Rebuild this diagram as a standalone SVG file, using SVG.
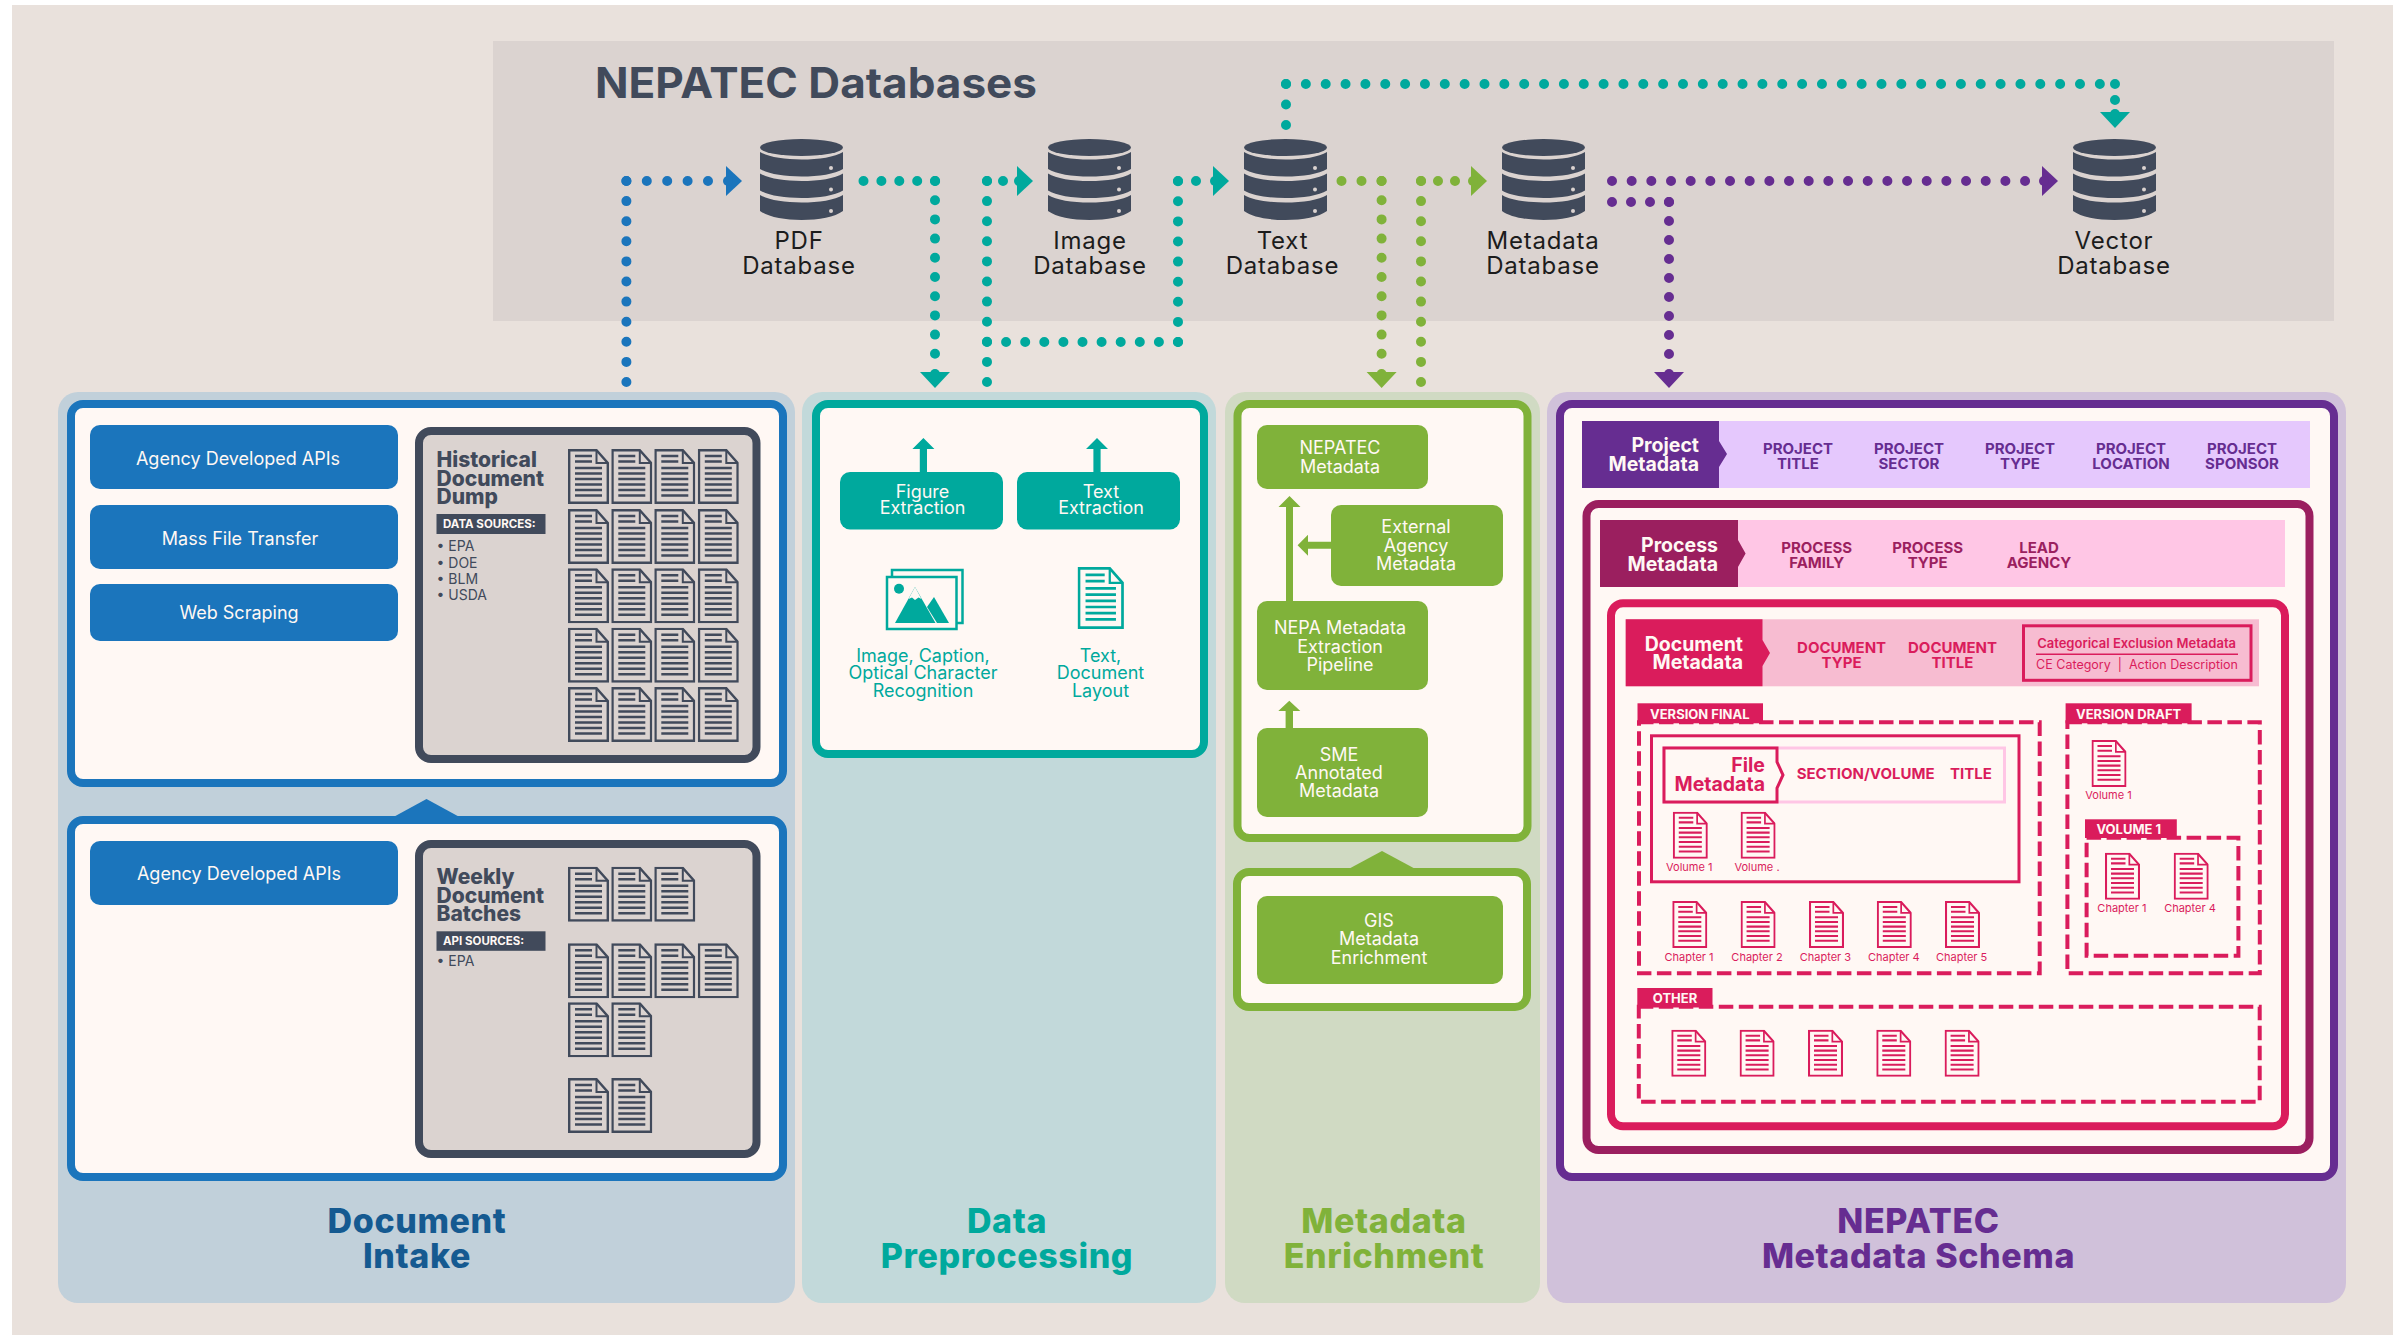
<svg xmlns="http://www.w3.org/2000/svg" width="2400" height="1335" viewBox="0 0 2400 1335">
<style>
text{font-family:Inter,"Liberation Sans",sans-serif}
.m{text-anchor:middle}.e{text-anchor:end}
.b{font-weight:700}.s{font-weight:600}
.btn{font-size:18px;fill:#fff8f4;text-anchor:middle}
.dbl{font-size:24px;letter-spacing:.8px;fill:#1c1c1c;text-anchor:middle}
.h2{font-size:34px;font-weight:800;letter-spacing:.6px;text-anchor:middle}
.frame{fill:#fff8f4;stroke-width:8}
.dots{fill:none;stroke-width:10;stroke-linecap:round}
.dk{color:#414a5b;fill:#dbd3d0}.pk{color:#da1c5c;fill:#fff8f4}.tl{color:#00a99d;fill:#fff8f4}
.gh{font-size:21px;font-weight:800;fill:#414a5b}
.fh{font-size:19.5px;font-weight:700;fill:#da1c5c;text-anchor:end}
.tag{font-size:11.5px;font-weight:700;fill:#fff8f4}
.bul{font-size:14px;fill:#414a5b}
.ph{font-size:19.5px;font-weight:700;fill:#fff8f4;text-anchor:end}
.it{font-size:15px;font-weight:700;text-anchor:middle}
.tab{font-size:13px;font-weight:700;fill:#fff8f4}
.cap{font-size:11px;fill:#da1c5c;text-anchor:middle}
.dash{fill:none;stroke:#da1c5c;stroke-width:4;stroke-dasharray:14.5 5.5}
</style>
<defs>
<symbol id="doc" viewBox="0 0 41 55">
<path d="M1.2,1.2H28.5L39.8,14V53.8H1.2Z" stroke="currentColor" stroke-width="2.4"/>
<path d="M28.5,1.2V14H39.8" fill="none" stroke="currentColor" stroke-width="2"/>
<path d="M7,7H24M7,12.5H24M7,19H34M7,24.5H34M7,30H34M7,35.5H34M7,41H34M7,46.5H34" fill="none" stroke="currentColor" stroke-width="2.4"/>
</symbol>
<symbol id="db" viewBox="0 0 83 81">
<ellipse cx="41.5" cy="8.5" rx="41.5" ry="8.5" fill="#414a5b"/>
<path d="M0,13C8,18 24,20.5 41.5,20.5S75,18 83,13V30C75,35 59,37.5 41.5,37.5S8,35 0,30Z" fill="#414a5b"/>
<path d="M0,34.5C8,39.5 24,42 41.5,42S75,39.5 83,34.5V51.5C75,56.5 59,59 41.5,59S8,56.5 0,51.5Z" fill="#414a5b"/>
<path d="M0,56C8,61 24,63.5 41.5,63.5S75,61 83,56V72C75,78 59,81 41.5,81S8,78 0,72Z" fill="#414a5b"/>
<circle cx="71" cy="29" r="2" fill="#dbd3d0"/><circle cx="71" cy="50.5" r="2" fill="#dbd3d0"/><circle cx="71" cy="72" r="2" fill="#dbd3d0"/>
</symbol>
<g id="ah"><polygon points="3,-15 19,0 3,15"/><circle cx="5" cy="0" r="5"/></g>
</defs>

<rect x="12" y="5" width="2381" height="1330" fill="#e9e1dc"/>

<g id="databases-panel">
<rect x="493" y="41" width="1841" height="280" fill="#dbd3d0"/>
<text x="595" y="98" font-size="42" class="b" fill="#414a5b" textLength="442" lengthAdjust="spacingAndGlyphs">NEPATEC Databases</text>
</g>

<g id="db-pdf"><use href="#db" x="760" y="139" width="83" height="81"/><text class="dbl" x="799" y="249">PDF</text><text class="dbl" x="799" y="274">Database</text></g>
<g id="db-image"><use href="#db" x="1048" y="139" width="83" height="81"/><text class="dbl" x="1090" y="249">Image</text><text class="dbl" x="1090" y="274">Database</text></g>
<g id="db-text"><use href="#db" x="1244" y="139" width="83" height="81"/><text class="dbl" x="1282.5" y="249">Text</text><text class="dbl" x="1282.5" y="274">Database</text></g>
<g id="db-metadata"><use href="#db" x="1502" y="139" width="83" height="81"/><text class="dbl" x="1543" y="249">Metadata</text><text class="dbl" x="1543" y="274">Database</text></g>
<g id="db-vector"><use href="#db" x="2073" y="139" width="83" height="81"/><text class="dbl" x="2114" y="249">Vector</text><text class="dbl" x="2114" y="274">Database</text></g>

<g id="document-intake">
<rect x="58" y="392" width="737" height="911" rx="20" fill="#c1d0da"/>
<rect class="frame" x="71" y="404" width="712" height="379" rx="12" stroke="#1b75bc"/>
<rect class="frame" x="71" y="820" width="712" height="357" rx="12" stroke="#1b75bc"/>
<polygon points="388,820 426.5,799 465,820" fill="#1b75bc"/>
<g fill="#1b75bc">
<rect x="90" y="425" width="308" height="64" rx="10"/>
<rect x="90" y="505" width="308" height="64" rx="10"/>
<rect x="90" y="584" width="308" height="57" rx="10"/>
<rect x="90" y="841" width="308" height="64" rx="10"/>
</g>
<text class="btn" x="238" y="465">Agency Developed APIs</text>
<text class="btn" x="240" y="545">Mass File Transfer</text>
<text class="btn" x="239" y="619">Web Scraping</text>
<text class="btn" x="239" y="880">Agency Developed APIs</text>
<text class="h2" x="417" y="1233" fill="#155a91">Document</text>
<text class="h2" x="417" y="1268" fill="#155a91">Intake</text>
</g>

<g id="historical-dump">
<rect x="419" y="431" width="337.5" height="328" rx="12" fill="#dbd3d0" stroke="#414a5b" stroke-width="8"/>
<text class="gh" x="436.5" y="467">Historical</text><text class="gh" x="436.5" y="485.7">Document</text><text class="gh" x="436.5" y="504">Dump</text>
<rect x="436.5" y="514" width="109" height="20" fill="#414a5b"/>
<text class="tag" x="443" y="528">DATA SOURCES:</text>
<text class="bul" x="436.5" y="551">• EPA</text><text class="bul" x="436.5" y="567.7">• DOE</text><text class="bul" x="436.5" y="584">• BLM</text><text class="bul" x="436.5" y="600">• USDA</text>
<g class="dk">
<use href="#doc" x="568" y="449" width="41" height="55"/><use href="#doc" x="611.3" y="449" width="41" height="55"/><use href="#doc" x="654.3" y="449" width="41" height="55"/><use href="#doc" x="697.8" y="449" width="41" height="55"/>
<use href="#doc" x="568" y="509" width="41" height="55"/><use href="#doc" x="611.3" y="509" width="41" height="55"/><use href="#doc" x="654.3" y="509" width="41" height="55"/><use href="#doc" x="697.8" y="509" width="41" height="55"/>
<use href="#doc" x="568" y="568.3" width="41" height="55"/><use href="#doc" x="611.3" y="568.3" width="41" height="55"/><use href="#doc" x="654.3" y="568.3" width="41" height="55"/><use href="#doc" x="697.8" y="568.3" width="41" height="55"/>
<use href="#doc" x="568" y="627.7" width="41" height="55"/><use href="#doc" x="611.3" y="627.7" width="41" height="55"/><use href="#doc" x="654.3" y="627.7" width="41" height="55"/><use href="#doc" x="697.8" y="627.7" width="41" height="55"/>
<use href="#doc" x="568" y="687" width="41" height="55"/><use href="#doc" x="611.3" y="687" width="41" height="55"/><use href="#doc" x="654.3" y="687" width="41" height="55"/><use href="#doc" x="697.8" y="687" width="41" height="55"/>
</g>
</g>

<g id="weekly-batches">
<rect x="419" y="844" width="337.5" height="310" rx="12" fill="#dbd3d0" stroke="#414a5b" stroke-width="8"/>
<text class="gh" x="436.5" y="884.3">Weekly</text><text class="gh" x="436.5" y="902.7">Document</text><text class="gh" x="436.5" y="921">Batches</text>
<rect x="436.5" y="931.3" width="109" height="19.5" fill="#414a5b"/>
<text class="tag" x="443" y="944.5">API SOURCES:</text>
<text class="bul" x="436.5" y="966">• EPA</text>
<g class="dk">
<use href="#doc" x="568" y="866.7" width="41" height="55"/><use href="#doc" x="611.3" y="866.7" width="41" height="55"/><use href="#doc" x="654.3" y="866.7" width="41" height="55"/>
<use href="#doc" x="568" y="943.3" width="41" height="55"/><use href="#doc" x="611.3" y="943.3" width="41" height="55"/><use href="#doc" x="654.3" y="943.3" width="41" height="55"/><use href="#doc" x="697.8" y="943.3" width="41" height="55"/>
<use href="#doc" x="568" y="1002.3" width="41" height="55"/><use href="#doc" x="611.3" y="1002.3" width="41" height="55"/>
<use href="#doc" x="568" y="1078" width="41" height="55"/><use href="#doc" x="611.3" y="1078" width="41" height="55"/>
</g>
</g>

<g id="data-preprocessing">
<rect x="802" y="392" width="414" height="911" rx="20" fill="#c2d9da"/>
<rect class="frame" x="816" y="404" width="388" height="350" rx="12" stroke="#00a99d"/>
<rect x="840" y="472" width="163" height="57.5" rx="10" fill="#00a99d"/>
<rect x="1017" y="472" width="163" height="57.5" rx="10" fill="#00a99d"/>
<text class="btn" x="922.5" y="498">Figure</text><text class="btn" x="922.5" y="514">Extraction</text>
<text class="btn" x="1101" y="498">Text</text><text class="btn" x="1101" y="514">Extraction</text>
<g id="image-icon" class="tl">
<rect x="892" y="570" width="70.5" height="53" stroke="#00a99d" stroke-width="2.5"/>
<rect x="887" y="577" width="69.5" height="52" stroke="#00a99d" stroke-width="2.5"/>
<circle cx="899" cy="588.7" r="5" fill="#00a99d"/>
<polygon points="915,587 895,623 935.5,623" fill="#00a99d"/>
<polygon points="915,587 908.5,599 912,597.5 915,600 918.5,597.5 921.5,599" fill="#fff8f4"/>
<polygon points="934,597 927,607 937,623 949,623" fill="#00a99d"/>
</g>
<use href="#doc" class="tl" x="1077.5" y="567" width="46.5" height="62"/>
<g fill="#00a99d" font-size="18" text-anchor="middle">
<text x="923" y="661.7">Image, Caption,</text><text x="923" y="679">Optical Character</text><text x="923" y="696.7">Recognition</text>
<text x="1100.5" y="661.7">Text,</text><text x="1100.5" y="679">Document</text><text x="1100.5" y="696.7">Layout</text>
</g>
<text class="h2" x="1007" y="1233" fill="#00a99d">Data</text>
<text class="h2" x="1007" y="1268" fill="#00a99d">Preprocessing</text>
</g>

<g id="metadata-enrichment">
<rect x="1225" y="392" width="315" height="911" rx="20" fill="#d0dac3"/>
<rect class="frame" x="1237.5" y="404" width="290" height="434" rx="12" stroke="#80b23a"/>
<rect class="frame" x="1237" y="872" width="290" height="135" rx="12" stroke="#80b23a"/>
<polygon points="1343,872 1382,851 1421,872" fill="#80b23a"/>
<g fill="#80b23a">
<rect x="1257" y="425" width="171" height="64" rx="10"/>
<rect x="1331" y="505" width="172" height="81" rx="10"/>
<rect x="1257" y="601" width="171" height="89" rx="10"/>
<rect x="1257" y="728" width="171" height="89" rx="10"/>
<rect x="1257" y="896" width="246" height="88" rx="10"/>
</g>
<text class="btn" x="1340" y="454">NEPATEC</text><text class="btn" x="1340" y="472.7">Metadata</text>
<text class="btn" x="1416" y="532.7">External</text><text class="btn" x="1416" y="551.7">Agency</text><text class="btn" x="1416" y="570">Metadata</text>
<text class="btn" x="1340" y="634.3">NEPA Metadata</text><text class="btn" x="1340" y="652.7">Extraction</text><text class="btn" x="1340" y="671">Pipeline</text>
<text class="btn" x="1339" y="760.7">SME</text><text class="btn" x="1339" y="779">Annotated</text><text class="btn" x="1339" y="797.3">Metadata</text>
<text class="btn" x="1379" y="926.7">GIS</text><text class="btn" x="1379" y="945.3">Metadata</text><text class="btn" x="1379" y="964">Enrichment</text>
<text class="h2" x="1384" y="1233" fill="#80b23a">Metadata</text>
<text class="h2" x="1384" y="1268" fill="#80b23a">Enrichment</text>
</g>

<g id="metadata-schema">
<rect x="1547" y="392" width="799" height="911" rx="20" fill="#d0c1da"/>
<rect class="frame" x="1560" y="404" width="774" height="773" rx="12" stroke="#662d91"/>
<text class="h2" x="1918.5" y="1233" fill="#662d91">NEPATEC</text>
<text class="h2" x="1918.5" y="1268" fill="#662d91">Metadata Schema</text>
</g>

<g id="project-metadata">
<rect x="1582" y="421" width="728" height="67" fill="#e5c8fd"/>
<polygon points="1582,421 1719,421 1719,441 1727,454 1719,467 1719,488 1582,488" fill="#662d91"/>
<text class="ph" x="1699" y="452.3">Project</text><text class="ph" x="1699" y="471">Metadata</text>
<g fill="#662d91">
<text class="it" x="1798" y="454.3">PROJECT</text><text class="it" x="1798" y="469">TITLE</text>
<text class="it" x="1909" y="454.3">PROJECT</text><text class="it" x="1909" y="469">SECTOR</text>
<text class="it" x="2020" y="454.3">PROJECT</text><text class="it" x="2020" y="469">TYPE</text>
<text class="it" x="2131" y="454.3">PROJECT</text><text class="it" x="2131" y="469">LOCATION</text>
<text class="it" x="2242" y="454.3">PROJECT</text><text class="it" x="2242" y="469">SPONSOR</text>
</g>
</g>

<g id="process-metadata">
<rect class="frame" x="1586.5" y="504" width="723" height="646" rx="12" stroke="#9b1f5f"/>
<rect x="1600" y="520" width="685" height="67" fill="#ffc6e5"/>
<polygon points="1600,520 1738,520 1738,540 1745.6,553.5 1738,567 1738,587 1600,587" fill="#9b1f5f"/>
<text class="ph" x="1718" y="552">Process</text><text class="ph" x="1718" y="570.7">Metadata</text>
<g fill="#9b1f5f">
<text class="it" x="1816.7" y="553.3">PROCESS</text><text class="it" x="1816.7" y="568.3">FAMILY</text>
<text class="it" x="1927.7" y="553.3">PROCESS</text><text class="it" x="1927.7" y="568.3">TYPE</text>
<text class="it" x="2039" y="553.3">LEAD</text><text class="it" x="2039" y="568.3">AGENCY</text>
</g>
</g>

<g id="document-metadata">
<rect class="frame" x="1611" y="603.3" width="674" height="523" rx="12" stroke="#da1c5c"/>
<rect x="1625.7" y="619.3" width="633.3" height="67" fill="#f7bcd1"/>
<polygon points="1625.7,619.3 1762.5,619.3 1762.5,640 1770,653 1762.5,666 1762.5,686.3 1625.7,686.3" fill="#da1c5c"/>
<text class="ph" x="1743" y="651">Document</text><text class="ph" x="1743" y="669.3">Metadata</text>
<g fill="#da1c5c">
<text class="it" x="1841.6" y="652.7">DOCUMENT</text><text class="it" x="1841.6" y="667.7">TYPE</text>
<text class="it" x="1952.5" y="652.7">DOCUMENT</text><text class="it" x="1952.5" y="667.7">TITLE</text>
</g>
<rect x="2023.5" y="625.8" width="227.5" height="54.5" fill="none" stroke="#da1c5c" stroke-width="3"/>
<text x="2136.6" y="648" class="m s" font-size="13" fill="#da1c5c">Categorical Exclusion Metadata</text>
<path d="M2036,654.3H2238" stroke="#da1c5c" stroke-width="1.5"/>
<text x="2137" y="669.3" class="m" font-size="12.5" xml:space="preserve" fill="#da1c5c">CE Category  |  Action Description</text>
</g>

<g id="version-final">
<rect class="dash" x="1639" y="722.3" width="400.7" height="251"/>
<rect x="1637.5" y="703.3" width="125.5" height="20" fill="#da1c5c"/>
<text class="tab" x="1650" y="718.7">VERSION FINAL</text>
<rect x="1651.5" y="735.8" width="367.5" height="146" fill="none" stroke="#da1c5c" stroke-width="3"/>
<g id="file-metadata">
<rect x="1664" y="748" width="340.5" height="54" fill="#fff8f4" stroke="#ffc6e5" stroke-width="3"/>
<polygon points="1664,748 1777,748 1777,762 1783,775 1777,788 1777,802 1664,802" fill="#fff8f4" stroke="#da1c5c" stroke-width="3"/>
<text x="1765" y="772.3" class="fh">File</text><text x="1765" y="791" class="fh">Metadata</text>
<text class="it" x="1865.6" y="779.3" fill="#da1c5c">SECTION/VOLUME</text><text class="it" x="1971" y="779.3" fill="#da1c5c">TITLE</text>
</g>
<g class="pk">
<use href="#doc" x="1672.8" y="811.7" width="35" height="47"/><use href="#doc" x="1740.6" y="811.7" width="35" height="47"/>
<use href="#doc" x="1672.3" y="901" width="35" height="47"/><use href="#doc" x="1740.6" y="901" width="35" height="47"/><use href="#doc" x="1809" y="901" width="35" height="47"/><use href="#doc" x="1876.8" y="901" width="35" height="47"/><use href="#doc" x="1945" y="901" width="35" height="47"/>
</g>
<text class="cap" x="1689.3" y="871">Volume 1</text><text class="cap" x="1757" y="871">Volume .</text>
<text class="cap" x="1689" y="960.7">Chapter 1</text><text class="cap" x="1757" y="960.7">Chapter 2</text><text class="cap" x="1825.4" y="960.7">Chapter 3</text><text class="cap" x="1893.8" y="960.7">Chapter 4</text><text class="cap" x="1961.6" y="960.7">Chapter 5</text>
</g>

<g id="version-draft">
<rect class="dash" x="2067.4" y="722.3" width="192.4" height="251"/>
<rect x="2065.6" y="703.3" width="126" height="20" fill="#da1c5c"/>
<text class="tab" x="2076" y="718.7">VERSION DRAFT</text>
<use href="#doc" class="pk" x="2091.5" y="740" width="35" height="47"/>
<text class="cap" x="2108.5" y="799.3">Volume 1</text>
<rect class="dash" x="2086.6" y="837.7" width="151.8" height="118"/>
<rect x="2085" y="819.3" width="91.8" height="18.7" fill="#da1c5c"/>
<text class="tab" x="2096.4" y="834">VOLUME 1</text>
<g class="pk"><use href="#doc" x="2105" y="852.7" width="35" height="47"/><use href="#doc" x="2173.7" y="852.7" width="35" height="47"/></g>
<text class="cap" x="2121.9" y="912.3">Chapter 1</text><text class="cap" x="2190" y="912.3">Chapter 4</text>
</g>

<g id="other">
<rect class="dash" x="1638.8" y="1006.7" width="620.9" height="95"/>
<rect x="1637.3" y="988" width="75.2" height="19.5" fill="#da1c5c"/>
<text class="tab" x="1652.8" y="1003.3">OTHER</text>
<g class="pk"><use href="#doc" x="1671.3" y="1029.7" width="35" height="47"/><use href="#doc" x="1739.6" y="1029.7" width="35" height="47"/><use href="#doc" x="1808" y="1029.7" width="35" height="47"/><use href="#doc" x="1876.3" y="1029.7" width="35" height="47"/><use href="#doc" x="1944.6" y="1029.7" width="35" height="47"/></g>
</g>

<g id="connectors">
<path class="dots" stroke="#1b75bc" stroke-dasharray="0 20.1" d="M626.4,382V180"/>
<path class="dots" stroke="#1b75bc" stroke-dasharray="0 20.4" d="M626.4,181H709"/>
<use href="#ah" fill="#1b75bc" x="723" y="181"/>
<path class="dots" stroke="#00a99d" stroke-dasharray="0 17.9" d="M863.5,181H936"/>
<path class="dots" stroke="#00a99d" stroke-dasharray="0 19.2" d="M935,181V355"/>
<use href="#ah" fill="#00a99d" transform="translate(935,369) rotate(90)"/>
<path class="dots" stroke="#00a99d" stroke-dasharray="0 20.1" d="M987,382V180"/>
<path class="dots" stroke="#00a99d" stroke-dasharray="0 16" d="M987,181H1004"/>
<use href="#ah" fill="#00a99d" x="1014" y="181"/>
<path class="dots" stroke="#00a99d" stroke-dasharray="0 19.1" d="M987,342H1179"/>
<path class="dots" stroke="#00a99d" stroke-dasharray="0 20.1" d="M1178,342V180"/>
<path class="dots" stroke="#00a99d" stroke-dasharray="0 18" d="M1178,181H1197"/>
<use href="#ah" fill="#00a99d" x="1210" y="181"/>
<path class="dots" stroke="#00a99d" stroke-dasharray="0 20.5" d="M1286,125V83"/>
<path class="dots" stroke="#00a99d" stroke-dasharray="0 19.85" d="M1286,84H2116"/>
<path class="dots" stroke="#00a99d" stroke-dasharray="0 16" d="M2115,84V101"/>
<use href="#ah" fill="#00a99d" transform="translate(2115,109) rotate(90)"/>
<path class="dots" stroke="#80b23a" stroke-dasharray="0 20" d="M1341.5,181H1382.6"/>
<path class="dots" stroke="#80b23a" stroke-dasharray="0 19.2" d="M1381.6,181V355"/>
<use href="#ah" fill="#80b23a" transform="translate(1381.6,369) rotate(90)"/>
<path class="dots" stroke="#80b23a" stroke-dasharray="0 20.1" d="M1421,382V180"/>
<path class="dots" stroke="#80b23a" stroke-dasharray="0 17" d="M1421,181H1456"/>
<use href="#ah" fill="#80b23a" x="1468" y="181"/>
<path class="dots" stroke="#662d91" stroke-dasharray="0 19.67" d="M1612,181H2026"/>
<use href="#ah" fill="#662d91" x="2039" y="181"/>
<path class="dots" stroke="#662d91" stroke-dasharray="0 19" d="M1612,202H1670"/>
<path class="dots" stroke="#662d91" stroke-dasharray="0 19" d="M1669,202V355"/>
<use href="#ah" fill="#662d91" transform="translate(1669,369) rotate(90)"/>
<g fill="#00a99d">
<polygon points="923.4,438 934.4,449 927,449 927,472 919.8,472 919.8,449 912.4,449"/>
<polygon points="1097,438 1108,449 1100.6,449 1100.6,472 1093.4,472 1093.4,449 1086,449"/>
</g>
<g fill="#80b23a">
<polygon points="1289.5,496 1300.5,507 1293,507 1293,601 1286,601 1286,507 1278.5,507"/>
<polygon points="1297.6,545.3 1308,534.8 1308,541.8 1331,541.8 1331,548.8 1308,548.8 1308,555.8"/>
<polygon points="1289.3,700.7 1300.3,711 1293,711 1293,728 1285.6,728 1285.6,711 1278.3,711"/>
</g>
</g>
</svg>
